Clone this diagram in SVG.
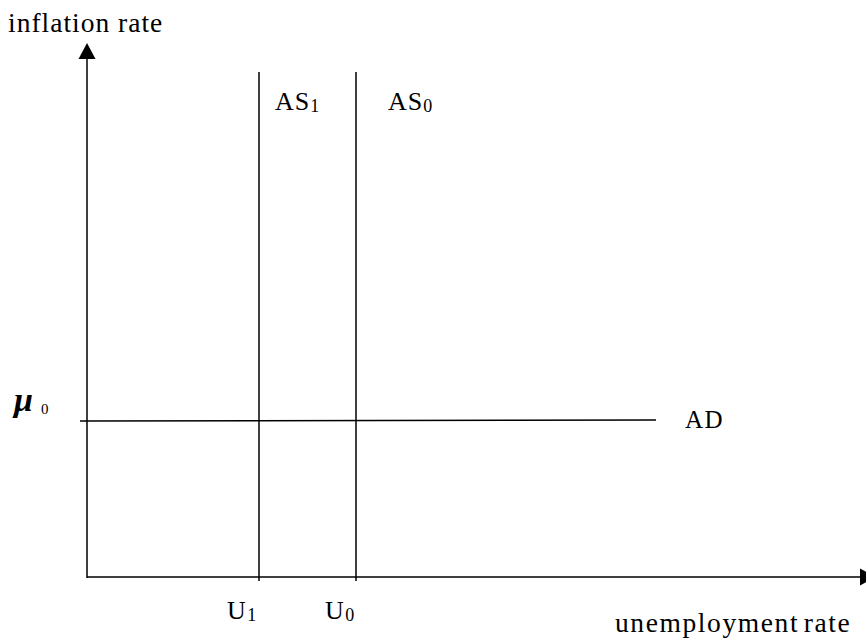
<svg xmlns="http://www.w3.org/2000/svg" width="866" height="639" viewBox="0 0 866 639">
<style>
.t{font-family:"Liberation Serif","Times New Roman",serif;fill:#000}
.ln{stroke:#000;stroke-width:1.5;fill:none}
</style>
<rect width="866" height="639" fill="#fff"/>
<g id="connectors">
<line class="ln" x1="87" y1="578" x2="87" y2="56"/>
<polygon points="87,43 78.5,59 95.5,59" fill="#000"/>
<line class="ln" x1="87" y1="577" x2="862" y2="577"/>
<polygon points="876,577 860,568.5 860,585.5" fill="#000"/>
<line class="ln" x1="259" y1="72" x2="259" y2="581"/>
<line class="ln" x1="356" y1="72" x2="356" y2="581"/>
<line class="ln" x1="80" y1="421" x2="656" y2="420"/>
</g>
<g id="yaxis-label"><text class="t" x="8" y="32" font-size="27.5" letter-spacing="1">inflation rate</text></g>
<g id="xaxis-label"><text class="t" x="615" y="632" font-size="27.5" letter-spacing="1.6" word-spacing="-4">unemployment rate</text></g>
<g id="AS1"><text class="t" x="275" y="110" font-size="26" letter-spacing="1">AS<tspan font-size="18" dy="2">1</tspan></text></g>
<g id="AS0"><text class="t" x="388" y="110" font-size="26" letter-spacing="1">AS<tspan font-size="18" dy="2">0</tspan></text></g>
<g id="AD"><text class="t" x="685" y="428" font-size="25" letter-spacing="1.5">AD</text></g>
<g id="U1"><text class="t" x="227" y="619" font-size="26" letter-spacing="1.5">U<tspan font-size="18" dy="2">1</tspan></text></g>
<g id="U0"><text class="t" x="325" y="619" font-size="26" letter-spacing="1.5">U<tspan font-size="18" dy="2">0</tspan></text></g>
<g id="mu0"><text class="t" x="14" y="411" font-size="34" font-weight="bold" font-style="italic">μ</text><text class="t" x="41" y="414" font-size="15">0</text></g>
</svg>
